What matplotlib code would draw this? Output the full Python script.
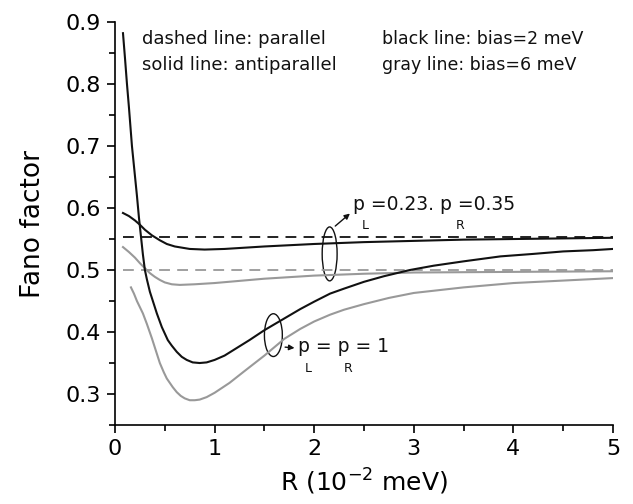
import matplotlib
matplotlib.use('Agg')
import matplotlib.pyplot as plt
from matplotlib.patches import Ellipse
from matplotlib.ticker import MultipleLocator

plt.rcParams['font.family'] = 'DejaVu Sans'
plt.rcParams['mathtext.fontset'] = 'dejavusans'

# antiparallel, p_L = p_R = 1, bias = 2 meV (black)
x_ap1_b2 = [0.08, 0.09, 0.10, 0.12, 0.14, 0.17, 0.195, 0.22, 0.24, 0.26, 0.28, 0.30, 0.32, 0.35, 0.38,
            0.42, 0.47, 0.53, 0.57, 0.62, 0.67, 0.72, 0.78, 0.85, 0.92, 1.0, 1.1, 1.2, 1.35, 1.5,
            1.68, 1.86, 2.0, 2.16, 2.3, 2.5, 2.7, 2.96, 3.2, 3.5, 3.87, 4.2, 4.5, 4.8, 5.0]
y_ap1_b2 = [0.882, 0.862, 0.842, 0.80, 0.762, 0.70, 0.66, 0.62, 0.585, 0.555, 0.525, 0.50, 0.485, 0.465, 0.45,
            0.43, 0.408, 0.387, 0.378, 0.368, 0.36, 0.355, 0.351, 0.350, 0.351, 0.355, 0.362, 0.372, 0.387, 0.403,
            0.420, 0.437, 0.449, 0.462, 0.470, 0.481, 0.490, 0.500, 0.507, 0.514, 0.522, 0.526, 0.530, 0.532, 0.534]

# antiparallel, p_L = p_R = 1, bias = 6 meV (gray)
x_ap1_b6 = [0.16, 0.19, 0.22, 0.25, 0.28, 0.32, 0.37, 0.41, 0.45, 0.49, 0.52, 0.58, 0.62, 0.66, 0.70,
            0.75, 0.80, 0.85, 0.92, 1.0, 1.15, 1.3, 1.5, 1.7, 1.86, 2.0, 2.16, 2.3, 2.5, 2.75, 3.0,
            3.5, 4.0, 4.5, 5.0]
y_ap1_b6 = [0.472, 0.462, 0.45, 0.44, 0.43, 0.413, 0.39, 0.37, 0.35, 0.335, 0.325, 0.311, 0.303, 0.297, 0.293,
            0.290, 0.290, 0.291, 0.295, 0.302, 0.318, 0.337, 0.362, 0.389, 0.405, 0.417, 0.428, 0.436, 0.445, 0.455, 0.463,
            0.472, 0.479, 0.483, 0.487]

# antiparallel, p_L = 0.23, p_R = 0.35, bias = 2 meV (black)
x_ap2_b2 = [0.08, 0.14, 0.2, 0.25, 0.3, 0.37, 0.45, 0.52, 0.6, 0.75, 0.9, 1.1, 1.5, 2.0, 2.5, 3.0, 3.5, 4.0, 5.0]
y_ap2_b2 = [0.592, 0.587, 0.58, 0.573, 0.565, 0.556, 0.548, 0.542, 0.538, 0.534, 0.533, 0.534, 0.538, 0.542,
            0.545, 0.547, 0.549, 0.550, 0.552]

# antiparallel, p_L = 0.23, p_R = 0.35, bias = 6 meV (gray)
x_ap2_b6 = [0.08, 0.14, 0.2, 0.25, 0.3, 0.35, 0.4, 0.45, 0.5, 0.57, 0.65, 0.8, 1.0, 1.5, 2.0, 2.5, 3.0, 4.0, 5.0]
y_ap2_b6 = [0.537, 0.529, 0.52, 0.511, 0.503, 0.495, 0.489, 0.484, 0.48, 0.477, 0.476, 0.477, 0.479, 0.486,
            0.491, 0.494, 0.496, 0.497, 0.498]

# parallel configuration (dashed)
x_par = [0.08, 5.0]
y_par_b2 = [0.554, 0.554]
y_par_b6 = [0.5, 0.5]

x_ticks = [0, 1, 2, 3, 4, 5]
y_ticks = [0.3, 0.4, 0.5, 0.6, 0.7, 0.8, 0.9]

black = '#111111'
gray = '#999999'

fig = plt.figure(figsize=(6.33, 5.04), dpi=100)
ax = fig.add_axes([0.1817, 0.1567, 0.7867, 0.7996])

ax.plot(x_par, y_par_b2, color=black, lw=1.3, dashes=(6, 4))
ax.plot(x_par, y_par_b6, color=gray, lw=1.3, dashes=(6, 4))
ax.plot(x_ap2_b2, y_ap2_b2, color=black, lw=1.5)
ax.plot(x_ap2_b6, y_ap2_b6, color=gray, lw=1.5)
ax.plot(x_ap1_b2, y_ap1_b2, color=black, lw=1.5)
ax.plot(x_ap1_b6, y_ap1_b6, color=gray, lw=1.5)

ax.set_xlim(0, 5)
ax.set_ylim(0.25, 0.9)
ax.set_xticks(x_ticks)
ax.set_xticklabels([str(t) for t in x_ticks])
ax.set_yticks(y_ticks)
ax.set_yticklabels(['%.1f' % t for t in y_ticks])
ax.xaxis.set_minor_locator(MultipleLocator(0.5))
ax.yaxis.set_minor_locator(MultipleLocator(0.05))
ax.spines['top'].set_visible(False)
ax.spines['right'].set_visible(False)
for s in ('left', 'bottom'):
    ax.spines[s].set_linewidth(1.2)
ax.tick_params(which='major', direction='out', length=6, width=1.2, labelsize=16, pad=4)
ax.tick_params(which='minor', direction='out', length=4, width=1.2)

ax.set_ylabel('Fano factor', fontsize=19, labelpad=14)
ax.set_xlabel('R (10$^{-2}$ meV)', fontsize=18, labelpad=6)

# legend-like notes
ax.text(0.27, 0.864, 'dashed line: parallel', fontsize=13, color=black)
ax.text(0.27, 0.822, 'solid line: antiparallel', fontsize=13, color=black)
ax.text(2.68, 0.864, 'black line: bias=2 meV', fontsize=12.5, color=black)
ax.text(2.68, 0.822, 'gray line: bias=6 meV', fontsize=12.5, color=black)

# polarization annotations
ax.add_patch(Ellipse((2.155, 0.526), 0.15, 0.087, fill=False, lw=1.0, color=black))
ax.annotate('', xy=(2.38, 0.594), xytext=(2.19, 0.568),
            arrowprops=dict(arrowstyle='-|>', color=black, lw=1.0, mutation_scale=8))
ax.text(2.39, 0.597, 'p =0.23. p =0.35', fontsize=13.5, color=black)
ax.text(2.48, 0.566, 'L', fontsize=9, color=black)
ax.text(3.42, 0.566, 'R', fontsize=9, color=black)

ax.add_patch(Ellipse((1.59, 0.395), 0.18, 0.069, fill=False, lw=1.0, color=black))
ax.annotate('', xy=(1.83, 0.374), xytext=(1.68, 0.376),
            arrowprops=dict(arrowstyle='-|>', color=black, lw=1.0, mutation_scale=8))
ax.text(1.84, 0.368, 'p = p = 1', fontsize=13.5, color=black)
ax.text(1.91, 0.336, 'L', fontsize=9, color=black)
ax.text(2.30, 0.336, 'R', fontsize=9, color=black)

fig.savefig('out.png', dpi=100)
